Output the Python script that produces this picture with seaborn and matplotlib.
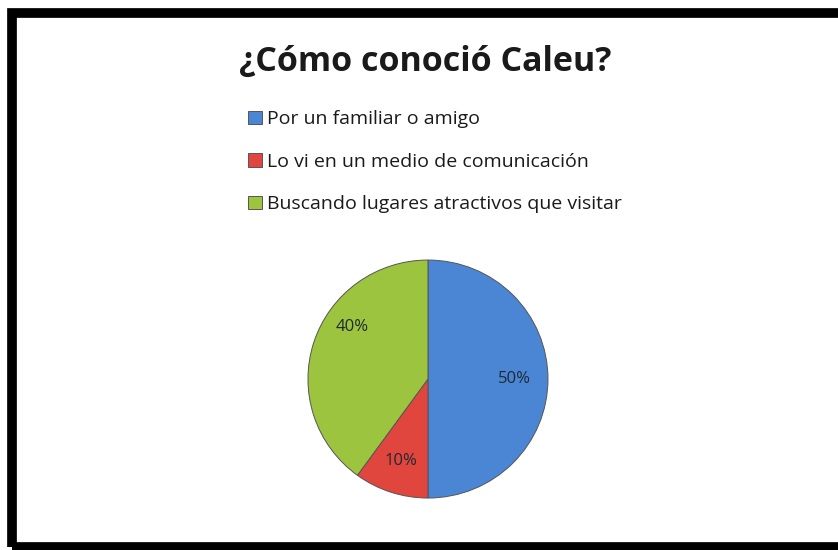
import matplotlib
matplotlib.use("Agg")
import matplotlib.pyplot as plt
import seaborn as sns

# datos
categorias = ["Por un familiar o amigo",
              "Lo vi en un medio de comunicación",
              "Buscando lugares atractivos que visitar"]
porcentajes = [50, 10, 40]
colores = ["#4a86d4", "#e0453e", "#9cc43e"]

sns.set_theme(style="white")
plt.rcParams['font.family'] = ['Open Sans', 'DejaVu Sans']

fig = plt.figure(figsize=(8.38, 5.5), dpi=100)

# marco negro
fig.patches.append(plt.Rectangle((0.014, 0.005), 1.2, 0.972, transform=fig.transFigure,
                                 fill=False, edgecolor="black", linewidth=7, zorder=0))

fig.text(0.507, 0.887, "¿Cómo conoció Caleu?", ha="center", va="center",
         fontsize=24.5, fontweight="bold", color="#1a1a1a")

ax = fig.add_axes([0.3675, 0.0945, 0.2864, 0.4327])
wedges, texts, autotexts = ax.pie(
    porcentajes, colors=colores, startangle=90, counterclock=False,
    autopct="%d%%", pctdistance=0.72,
    wedgeprops=dict(edgecolor="#555555", linewidth=0.7),
    textprops=dict(fontsize=12, color="#1f2a33"))
autotexts[2].set_position((-0.63, 0.44))
ax.set_aspect("auto")
ax.set_xlim(-1, 1)
ax.set_ylim(-1, 1)

fig.legend(wedges, categorias, loc="upper left", bbox_to_anchor=(0.275, 0.831),
           frameon=False, fontsize=14, handlelength=0.7, handleheight=0.7,
           handletextpad=0.3, labelspacing=1.26, labelcolor="#1a1a1a")

fig.savefig("out.png", dpi=100)
